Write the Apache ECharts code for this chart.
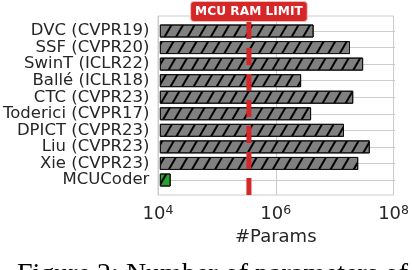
<!DOCTYPE html>
<html>
<head>
<meta charset="utf-8">
<script src="https://cdn.jsdelivr.net/npm/echarts@6/dist/echarts.min.js"></script>
<style>
html,body{margin:0;padding:0;background:#fff;}
#chart{width:412px;height:270px;}
</style>
</head>
<body>
<div id="chart"></div>
<script>
// ---- data ----
const categories = ['DVC (CVPR19)','SSF (CVPR20)','SwinT (ICLR22)','Ballé (ICLR18)','CTC (CVPR23)','Toderici (CVPR17)','DPICT (CVPR23)','Liu (CVPR23)','Xie (CVPR23)','MCUCoder'];
const params = [4.1e6, 1.71e7, 2.86e7, 2.51e6, 1.94e7, 3.71e6, 1.35e7, 3.72e7, 2.36e7, 1.5e4];
const highlight = 'MCUCoder';
const ramLimit = 3.5e5;
const limitLabel = 'MCU RAM LIMIT';
const xMin = 1e4, xMax = 1e8;
const xName = '#Params';
const caption = 'Figure 2: Number of parameters of';

// ---- chart ----
const chart = echarts.init(document.getElementById('chart'), null, {renderer:'canvas'});
const FONT = 'DejaVu Sans';
const TXT = '#262626';
const GRIDC = '#cccccc';

const hatch = {
  symbol: 'rect', symbolSize: 1,
  dashArrayX: [[1, 0]],
  dashArrayY: [1.3, 8],
  rotation: -Math.PI / 3,
  color: '#000'
};

const barData = params.map((v, i) => ({
  value: v,
  itemStyle: {
    color: categories[i] === highlight ? '#2ca02c' : '#808080',
    borderColor: '#111', borderWidth: 1,
    decal: hatch
  }
}));

chart.setOption({
  animation: false,
  backgroundColor: '#fff',
  aria: {enabled: false},
  grid: [
    {left: 158, right: 17, top: 16, bottom: 75, show: true, borderColor: GRIDC, borderWidth: 1, backgroundColor: 'transparent', z: 0},
    {left: 158, right: 17, top: 31, bottom: 90, show: false}
  ],
  xAxis: [
    {type: 'log', gridIndex: 0, min: xMin, max: xMax, logBase: 10, interval: 2,
     axisLine: {show: false}, axisTick: {show: false},
     splitLine: {show: true, lineStyle: {color: GRIDC, width: 1}},
     minorSplitLine: {show: false},
     axisLabel: {margin: 9,
       formatter: v => '{b|10}{s|' + Math.round(Math.log10(v)) + '}',
       rich: {
         b: {fontFamily: FONT, fontSize: 18, color: TXT, lineHeight: 20},
         s: {fontFamily: FONT, fontSize: 12.5, color: TXT, verticalAlign: 'top', lineHeight: 14}
       }},
     name: xName, nameLocation: 'middle', nameGap: 29,
     nameTextStyle: {fontFamily: FONT, fontSize: 18, color: TXT}
    },
    {type: 'log', gridIndex: 1, min: xMin, max: xMax, logBase: 10, show: false,
     splitLine: {show: false}}
  ],
  yAxis: [
    {type: 'value', gridIndex: 0, min: 0, max: 1, show: false, splitLine: {show: false}},
    {type: 'category', gridIndex: 1, data: categories, inverse: true, boundaryGap: false,
     axisLine: {show: false}, axisTick: {show: false},
     splitLine: {show: true, lineStyle: {color: GRIDC, width: 1}},
     axisLabel: {fontFamily: FONT, fontSize: 16.5, color: TXT, margin: 11, interval: 0}
    }
  ],
  series: [
    {type: 'bar', xAxisIndex: 1, yAxisIndex: 1, data: barData, barWidth: 13, z: 2},
    {type: 'line', xAxisIndex: 0, yAxisIndex: 0, z: 5,
     data: [[ramLimit, 0], {value: [ramLimit, 1],
       label: {show: true, position: 'top', distance: -5, formatter: limitLabel,
         fontFamily: FONT, fontWeight: 'bold', fontSize: 12.2, color: '#fff',
         backgroundColor: '#d62728', borderColor: '#f2b8b8', borderWidth: 1, borderRadius: 3,
         padding: [3, 4, 2, 4], lineHeight: 14}}],
     symbol: 'circle', symbolSize: 0, showSymbol: true,
     lineStyle: {color: '#d62728', width: 5, type: [17, 9], cap: 'butt'},
     label: {show: false}, silent: true
    }
  ],
  graphic: [
    {type: 'text', left: 17, top: 261, z: 10,
     style: {text: caption, fontFamily: 'Liberation Serif', fontSize: 28, fill: '#000'}}
  ]
});
</script>
</body>
</html>
